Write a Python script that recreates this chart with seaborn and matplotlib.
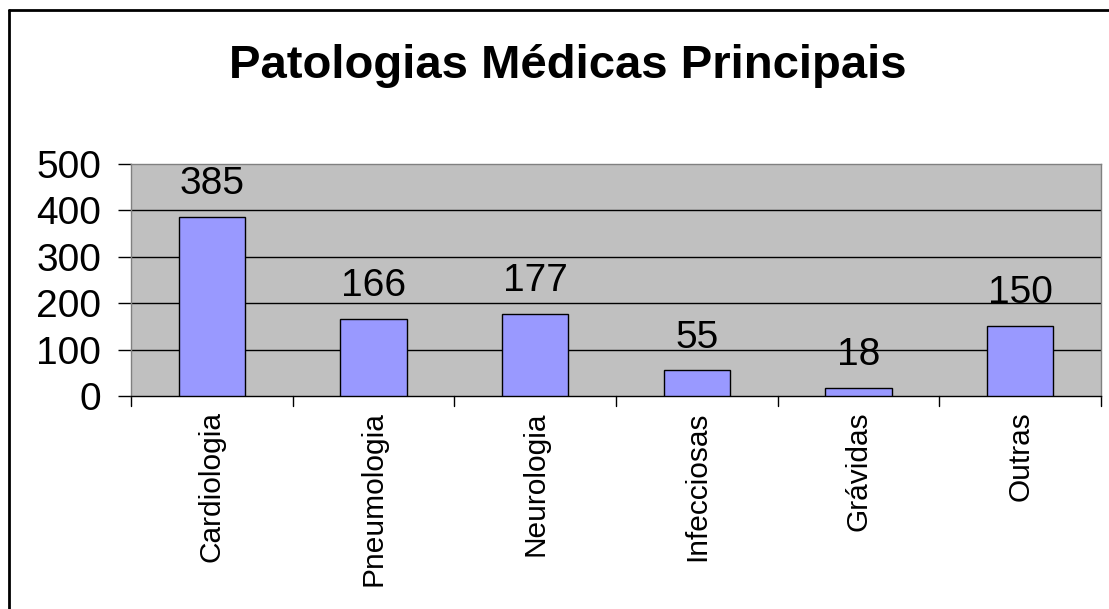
import pandas as pd
import seaborn as sns
import matplotlib.pyplot as plt
from matplotlib.lines import Line2D

# dados do grafico
categorias = ["Cardiologia", "Pneumologia", "Neurologia", "Infecciosas", "Grávidas", "Outras"]
valores = [385, 166, 177, 55, 18, 150]
y_ticks = [0, 100, 200, 300, 400, 500]

df = pd.DataFrame({"categoria": categorias, "valor": valores})

sns.set_style("white")
plt.rcParams['font.family'] = ['Liberation Sans', 'DejaVu Sans']
plt.rcParams['text.color'] = 'black'
plt.rcParams['xtick.color'] = 'black'
plt.rcParams['ytick.color'] = 'black'

fig = plt.figure(figsize=(11.09, 6.09), dpi=100)
ax = fig.add_axes([131 / 1109, 1 - 396 / 609, (1101 - 131) / 1109, (396 - 164) / 609])
ax.set_facecolor("#C0C0C0")

sns.barplot(data=df, x="categoria", y="valor", color="#9999FF", saturation=1,
            width=0.41, edgecolor="black", linewidth=1, ax=ax, zorder=3)

ax.set_ylim(0, 500)
ax.set_xlim(-0.5, len(categorias) - 0.5)
ax.set_yticks(y_ticks)
ax.set_yticklabels([str(t) for t in y_ticks], fontsize=28)
for t in y_ticks[1:-1]:
    ax.axhline(t, color="black", linewidth=1, zorder=1)

# rotulos das barras
for i, v in enumerate(valores):
    ax.annotate(str(v), (i, v), xytext=(0, 16.5), textcoords="offset points",
                ha="center", va="baseline", fontsize=28, zorder=4)

# ticks do eixo x entre categorias
ax.set_xticks(range(len(categorias)))
ax.set_xticklabels(categorias, rotation=90, fontsize=21.5, va="top")
ax.tick_params(axis="x", length=0, pad=11)
ax.tick_params(axis="y", length=9.4, width=1, direction="out", pad=12, left=True)
for k in range(len(categorias) + 1):
    ax.plot([k - 0.5, k - 0.5], [0, -0.045], transform=ax.get_xaxis_transform(),
            color="black", linewidth=1, clip_on=False)

ax.set_xlabel("")
ax.set_ylabel("")
for s in ["top", "right", "left"]:
    ax.spines[s].set_color("#808080")
    ax.spines[s].set_linewidth(1)
ax.spines["bottom"].set_color("black")
ax.spines["bottom"].set_linewidth(1)

fig.text(568 / 1109, 1 - 66 / 609, "Patologias Médicas Principais", ha="center", va="center",
         fontsize=34, fontweight="bold", color="black")

# moldura do grafico (so lados esquerdo e superior visiveis)
fig.add_artist(Line2D([9 / 1109, 9 / 1109], [0, 1 - 10 / 609], color="black", linewidth=2,
                      transform=fig.transFigure))
fig.add_artist(Line2D([9 / 1109, 1], [1 - 10 / 609, 1 - 10 / 609], color="black", linewidth=2,
                      transform=fig.transFigure))

fig.savefig("out.png", dpi=100)
